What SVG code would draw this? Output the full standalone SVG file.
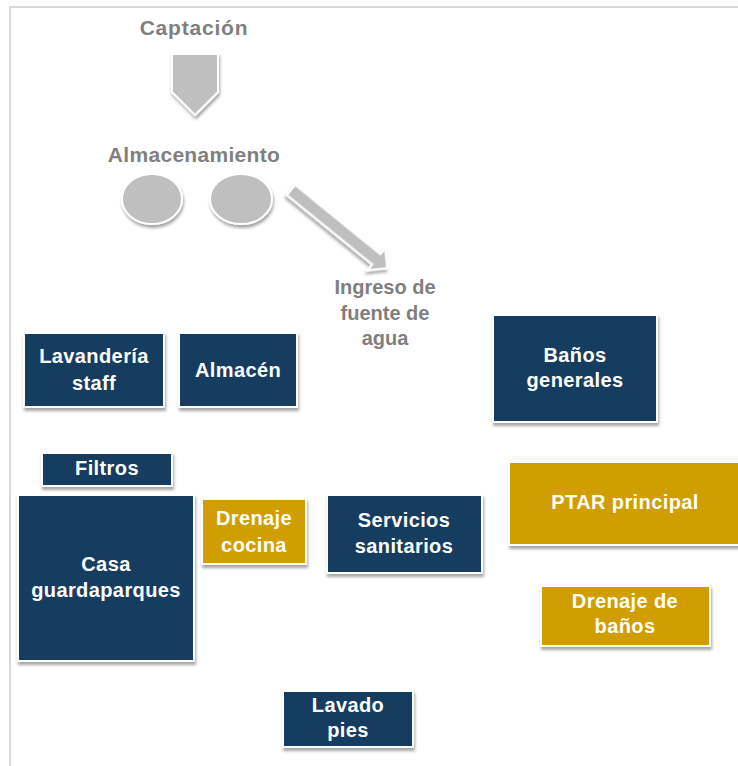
<svg xmlns="http://www.w3.org/2000/svg" width="738" height="766" viewBox="0 0 738 766">
<defs>
<filter id="sh" x="-20%" y="-20%" width="150%" height="160%">
<feDropShadow dx="1" dy="3" stdDeviation="1.8" flood-color="#000" flood-opacity="0.35"/>
</filter>
</defs>
<style>
.frame{fill:none;stroke:#d9d9d9;stroke-width:2}
.gray{fill:#bfbfbf;stroke:#ffffff;stroke-width:2;filter:url(#sh)}
.navy{fill:#193c61;stroke:#ffffff;stroke-width:2;filter:url(#sh)}
.gold{fill:#d09e00;stroke:#ffffff;stroke-width:2;filter:url(#sh)}
.lbl{font-family:"Liberation Sans",Arial,sans-serif;font-weight:bold;font-size:20px;fill:#7f7f7f;text-anchor:middle}
.t{font-family:"Liberation Sans",Arial,sans-serif;font-weight:bold;font-size:20px;letter-spacing:0.4px;fill:#ffffff;text-anchor:middle}
</style>
<rect x="0" y="0" width="738" height="766" fill="#ffffff"/>
<polyline class="frame" points="10,766 10,7 738,7"/>

<g id="captacion"><text class="lbl" x="194" y="35" style="font-size:21px;letter-spacing:0.8px">Captación</text></g>
<g id="almacenamiento">
<text class="lbl" x="194" y="162" style="font-size:21px;letter-spacing:0.3px">Almacenamiento</text>
<ellipse class="gray" cx="152" cy="199" rx="30" ry="25"/>
<ellipse class="gray" cx="241" cy="199" rx="31" ry="25"/>
</g>
<g id="ingreso">
<text class="lbl" x="385" y="294">Ingreso de</text>
<text class="lbl" x="385" y="320">fuente de</text>
<text class="lbl" x="385" y="345">agua</text>
</g>

<g id="connectors">
<polygon class="gray" points="172,54 218,54 218,92 195,115 172,92"/>
<polygon class="gray" transform="translate(291,190) rotate(39.1)" points="0,-6.5 110,-6.5 110,-14 124,0 110,14 110,6.5 0,6.5"/>
</g>

<g id="lavanderia">
<rect class="navy" x="24" y="333" width="140" height="74"/>
<text class="t" x="94" y="363">Lavandería</text>
<text class="t" x="94" y="390">staff</text>
</g>
<g id="almacen">
<rect class="navy" x="179" y="333" width="118" height="74"/>
<text class="t" x="238" y="377">Almacén</text>
</g>
<g id="banos-generales">
<rect class="navy" x="493" y="315" width="164" height="107"/>
<text class="t" x="575" y="362">Baños</text>
<text class="t" x="575" y="387">generales</text>
</g>
<g id="filtros">
<rect class="navy" x="42" y="453" width="130" height="33"/>
<text class="t" x="107" y="475">Filtros</text>
</g>
<g id="casa">
<rect class="navy" x="18" y="495" width="176" height="166"/>
<text class="t" x="106" y="571">Casa</text>
<text class="t" x="106" y="597">guardaparques</text>
</g>
<g id="drenaje-cocina">
<rect class="gold" x="202" y="499" width="104" height="65"/>
<text class="t" x="254" y="525">Drenaje</text>
<text class="t" x="254" y="552">cocina</text>
</g>
<g id="servicios">
<rect class="navy" x="327" y="495" width="155" height="78"/>
<text class="t" x="404" y="527">Servicios</text>
<text class="t" x="404" y="553">sanitarios</text>
</g>
<g id="ptar">
<rect class="gold" x="509" y="462" width="232" height="83"/>
<text class="t" x="625" y="509">PTAR principal</text>
</g>
<g id="drenaje-banos">
<rect class="gold" x="541" y="586" width="169" height="60"/>
<text class="t" x="625" y="608">Drenaje de</text>
<text class="t" x="625" y="633">baños</text>
</g>
<g id="lavado-pies">
<rect class="navy" x="283" y="691" width="130" height="56"/>
<text class="t" x="348" y="712">Lavado</text>
<text class="t" x="348" y="737">pies</text>
</g>
</svg>
